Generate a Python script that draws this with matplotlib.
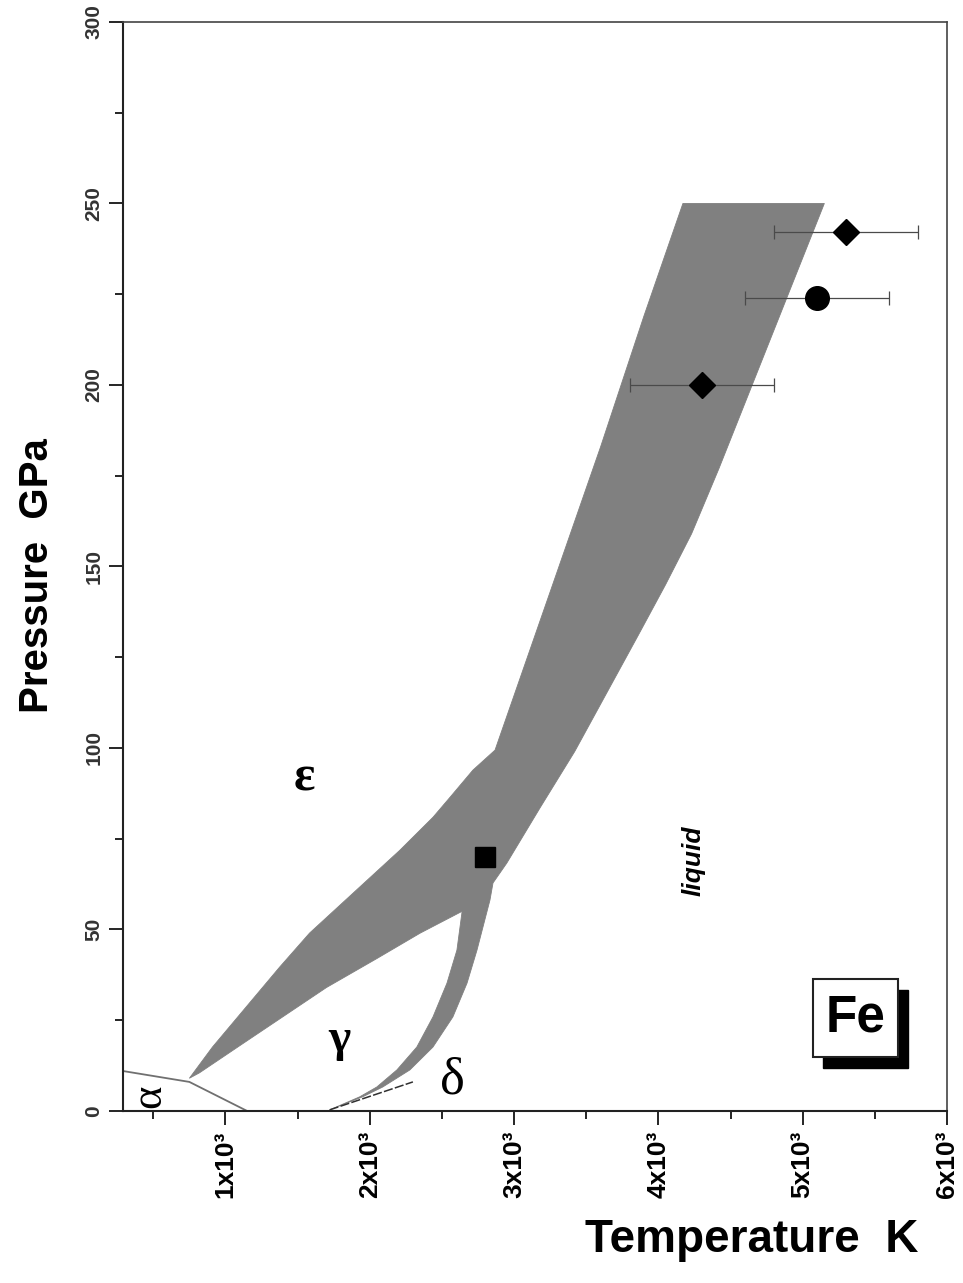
import matplotlib.pyplot as plt
from matplotlib import font_manager
from matplotlib.patches import Polygon, Rectangle
from matplotlib.ticker import FixedLocator, MultipleLocator

# =========================
# Fonts
# =========================
_names = {f.name for f in font_manager.fontManager.ttflist}
NARROW = "Liberation Sans Narrow" if "Liberation Sans Narrow" in _names else "Liberation Sans"
SANS = "Liberation Sans"
SERIF = "Liberation Serif"

# =========================
# Data: Fe phase diagram (T in K, P in GPa)
# =========================
# melting band, upper part: left and right edges from the kink up to 250 GPa
band_left_T = [2868, 3250, 3600, 3900, 4170]
band_left_P = [99.4, 143, 183, 219, 250]
band_right_T = [5150, 4900, 4650, 4420, 4230, 4050, 3860, 3640, 3420, 3180, 2950, 2854]
band_right_P = [250, 225, 200, 177, 159, 145, 131, 115, 99, 83.5, 68.3, 62.8]

# narrow branch (gamma / liquid), outer edge going down, inner edge going up
branch_outer_T = [2833, 2743, 2674, 2576, 2438, 2278, 2090, 1951, 1722]
branch_outer_P = [58.1, 44.3, 35.2, 25.9, 17.6, 11.3, 6.6, 3.9, 0.3]
branch_inner_T = [1931, 2049, 2188, 2326, 2438, 2535, 2604, 2640]
branch_inner_P = [3.9, 6.6, 11.3, 17.6, 25.9, 35.2, 44.3, 55.0]

# wedge (epsilon / gamma), lower edge from the notch to the tip, upper edge back to the kink
wedge_lower_T = [2350, 2050, 1700, 1400, 1100, 820, 750]
wedge_lower_P = [49.0, 42.0, 34.0, 26.0, 18.0, 10.5, 9.0]
wedge_upper_T = [910, 1375, 1583, 1931, 2208, 2438, 2556, 2715]
wedge_upper_P = [17.6, 39.6, 49.0, 61.7, 71.8, 80.9, 86.4, 93.9]

# thin phase boundaries
alpha_T = [290, 750, 1150]
alpha_P = [11.0, 8.0, 0.0]
delta_T = [1722, 2299]
delta_P = [0.3, 8.0]

# measurements
diamond_T = [5300, 4300]
diamond_P = [242, 200]
diamond_err = [500, 500]
circle_T = [5100]
circle_P = [224]
circle_err = [500]
square_T = [2800]
square_P = [70]

xticks = [1000, 2000, 3000, 4000, 5000, 6000]
xtick_labels = ["1x10³", "2x10³", "3x10³", "4x10³", "5x10³", "6x10³"]
yticks = [0, 50, 100, 150, 200, 250, 300]

# =========================
# Figure
# =========================
fig = plt.figure(figsize=(9.63, 12.83), dpi=100)
ax = fig.add_axes([0.1277, 0.1341, 0.8557, 0.8488])

outline_T = (band_left_T[-1:] + band_right_T + branch_outer_T + branch_inner_T
             + wedge_lower_T + wedge_upper_T + band_left_T[:-1])
outline_P = (band_left_P[-1:] + band_right_P + branch_outer_P + branch_inner_P
             + wedge_lower_P + wedge_upper_P + band_left_P[:-1])
ax.add_patch(Polygon(list(zip(outline_T, outline_P)), closed=True,
                     facecolor="#808080", edgecolor="#808080", linewidth=0.6, zorder=1))

ax.plot(alpha_T, alpha_P, color="#707070", linewidth=1.3, zorder=2)
ax.plot(delta_T, delta_P, color="#303030", linewidth=1.1, dashes=(6, 1.5), zorder=2)

# error bars and markers
ax.errorbar(diamond_T, diamond_P, xerr=diamond_err, fmt="none", ecolor="#4a4a4a",
            elinewidth=0.9, capsize=5, capthick=0.9, zorder=3)
ax.errorbar(circle_T, circle_P, xerr=circle_err, fmt="none", ecolor="#4a4a4a",
            elinewidth=0.9, capsize=5, capthick=0.9, zorder=3)
ax.plot(diamond_T, diamond_P, linestyle="none", marker="D", markersize=13,
        color="black", zorder=4)
ax.plot(circle_T, circle_P, linestyle="none", marker="o", markersize=17,
        color="black", zorder=4)
ax.plot(square_T, square_P, linestyle="none", marker="s", markersize=14,
        color="black", zorder=4)

# =========================
# Phase labels
# =========================
ax.text(1549, 91.7, "ε", family=SERIF, fontsize=36, fontweight="bold",
        ha="center", va="center")
ax.text(1792, 19.5, "γ", family=SERIF, fontsize=34, fontweight="bold",
        ha="center", va="center")
ax.text(2576, 8.5, "δ", family=SERIF, fontsize=38, ha="center", va="center")
ax.text(472, 4.0, "α", family=SERIF, fontsize=32, ha="center", va="center", rotation=90)
ax.text(4243, 69, "liquid", family=SANS, fontsize=19, fontweight="bold", style="italic",
        rotation=90, ha="center", va="center")

# Fe label box with drop shadow
ax.add_patch(Rectangle((0.8495, 0.0395), 0.1032, 0.0716, transform=ax.transAxes,
                       facecolor="black", edgecolor="black", zorder=5, clip_on=False))
ax.add_patch(Rectangle((0.8374, 0.0496), 0.1032, 0.0716, transform=ax.transAxes,
                       facecolor="white", edgecolor="#222222", linewidth=1.5, zorder=6,
                       clip_on=False))
ax.text(0.8890, 0.0854, "Fe", transform=ax.transAxes, family=SANS, fontsize=37,
        fontweight="bold", ha="center", va="center", zorder=7)

# =========================
# Axes styling
# =========================
ax.set_xlim(290, 6000)
ax.set_ylim(0, 300)
ax.xaxis.set_major_locator(FixedLocator(xticks))
ax.xaxis.set_minor_locator(MultipleLocator(500))
ax.yaxis.set_major_locator(FixedLocator(yticks))
ax.yaxis.set_minor_locator(MultipleLocator(25))
ax.set_xticklabels(xtick_labels, rotation=90, family=NARROW, fontsize=19,
                   fontweight="bold", va="top", ha="center")
ax.set_yticklabels([str(v) for v in yticks], rotation=90, family=NARROW, fontsize=15,
                   fontweight="bold", color="#333333", va="center", ha="right")
ax.tick_params(which="major", direction="out", length=10, width=1.2, pad=4)
ax.tick_params(which="minor", direction="out", length=6, width=1.2)

for side in ("left", "bottom"):
    ax.spines[side].set_linewidth(1.5)
    ax.spines[side].set_color("#222222")
for side in ("top", "right"):
    ax.spines[side].set_linewidth(1.2)
    ax.spines[side].set_color("#444444")

fig.text(37 / 963, 1 - 576 / 1283, "Pressure  GPa", rotation=90, family=NARROW,
         fontsize=29, fontweight="bold", ha="center", va="center")
fig.text(752 / 963, 1 - 1240 / 1283, "Temperature  K", family=NARROW,
         fontsize=33, fontweight="bold", ha="center", va="center")

fig.savefig("out.png", dpi=100)
